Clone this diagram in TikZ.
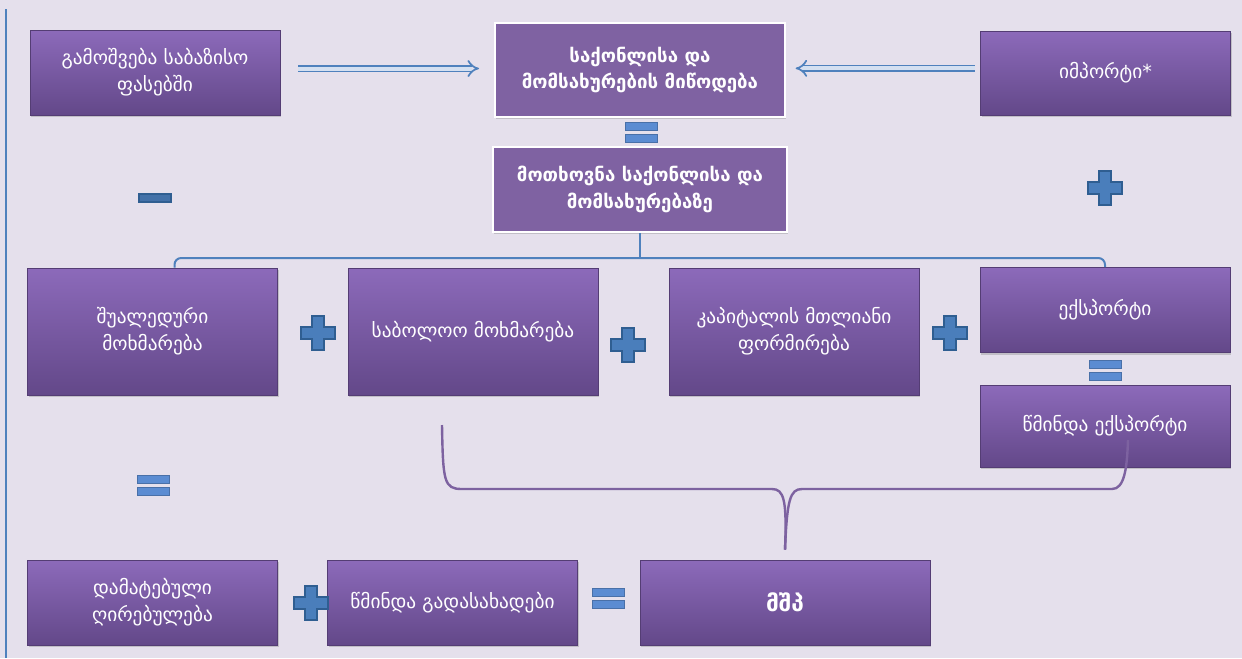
\documentclass[tikz,border=0pt]{standalone}
\usepackage{fontspec}
\setmainfont{DejaVu Sans}
\usetikzlibrary{arrows.meta, shadows}

\definecolor{bgcol}{HTML}{E5E0EC}
\definecolor{boxtop}{HTML}{8C6ABA}
\definecolor{boxbot}{HTML}{634889}
\definecolor{flatcol}{HTML}{7F62A2}
\definecolor{symblue}{HTML}{4A7EBB}
\definecolor{symedge}{HTML}{2F5E91}
\definecolor{eqblue}{HTML}{5B8CD2}
\definecolor{linkblue}{HTML}{4F81BD}
\definecolor{arrowfill}{HTML}{D4E0F1}
\definecolor{bracecol}{HTML}{7D62A0}

\tikzset{
  boxbase/.style={text=white, align=center, font=\fontsize{14.5}{20}\selectfont,
    minimum width=187.5pt, minimum height=63.75pt, inner sep=2pt,
    drop shadow={opacity=0.35, shadow xshift=1pt, shadow yshift=-1.5pt}},
  box/.style={boxbase, top color=boxtop, bottom color=boxbot, draw=boxbot!85!black, line width=0.4pt},
  flatbox/.style={boxbase, fill=flatcol, draw=white, line width=2pt, font=\bfseries\fontsize{14}{20}\selectfont},
  hollowarrow/.style={draw=linkblue, double=arrowfill, double distance=3pt, line width=1.3pt, -{Implies}},
  bluebrace/.style={draw=linkblue, line width=1.5pt, rounded corners=5pt},
  purplebrace/.style={draw=bracecol, line width=1.8pt},
  plussym/.pic={\filldraw[fill=symblue, draw=symedge, line width=1pt]
    (-6,-17)--(6,-17)--(6,-6)--(17,-6)--(17,6)--(6,6)--(6,17)--(-6,17)--(-6,6)--(-17,6)--(-17,-6)--(-6,-6)--cycle;},
  eqsym/.pic={\filldraw[fill=eqblue, draw=eqblue!80!black, line width=0.5pt] (-16,-10) rectangle (16,-2);
    \filldraw[fill=eqblue, draw=eqblue!80!black, line width=0.5pt] (-16,2) rectangle (16,10);},
  minsym/.pic={\filldraw[fill=symblue!90!black, draw=symedge, line width=1pt] (-16,-4) rectangle (16,4);}
}

\begin{document}
\begin{tikzpicture}[x=0.75pt, y=-0.75pt]
\useasboundingbox (0,0) rectangle (1242,658);
\fill[bgcol] (0,0) rectangle (1242,658);
\draw[linkblue, line width=2pt] (6,9) -- (6,658);

% top row
\node[box] (output) at (155,72.5) {გამოშვება საბაზისო\\ფასებში};
\node[flatbox, minimum width=217.5pt, minimum height=70.5pt] (supply) at (640,70) {საქონლისა და\\მომსახურების მიწოდება};
\node[box, minimum height=63pt] (import) at (1105.5,73) {იმპორტი*};
\node[flatbox, minimum width=220.5pt] (demand) at (640,189.5) {მოთხოვნა საქონლისა და\\მომსახურებაზე};

\draw[hollowarrow, shorten <=13.5pt, shorten >=11pt] ([yshift=3pt]output.east) -- ([yshift=3pt]output.east -| supply.west);
\draw[hollowarrow, shorten <=4pt, shorten >=7pt] ([yshift=3.5pt]import.west) -- ([yshift=3.5pt]import.west -| supply.east);

% components of demand
\node[box, minimum height=95.25pt] (interm) at (152.5,331.5) {შუალედური\\მოხმარება};
\node[box, minimum height=95.25pt] (final) at (473,331.5) {საბოლოო მოხმარება};
\node[box, minimum height=95.25pt] (capital) at (794,331.5) {კაპიტალის მთლიანი\\ფორმირება};
\node[box] (export) at (1105,310) {ექსპორტი};
\node[box, minimum height=61.5pt] (netexp) at (1105,426) {წმინდა ექსპორტი};

% bottom row
\node[box] (added) at (152.5,602.5) {დამატებული\\ღირებულება};
\node[box] (taxes) at (452.5,602.5) {წმინდა გადასახადები};
\node[box, minimum width=217.5pt, font=\bfseries\fontsize{17}{20}\selectfont] (gdp) at (785,602.5) {მშპ};

% braces
\draw[bluebrace] ([xshift=16.5pt]interm.north) |- (demand.south |- 0,258) -| ([xshift=0pt]export.north);
\draw[bluebrace] (demand.south) -- (640,258);

\coordinate (bl) at (442,425);
\coordinate (br) at (1128,440);
\coordinate (tip) at ([yshift=7.5pt]gdp.north);
\draw[purplebrace] (bl) .. controls (443,482) and (444,489) .. (462,489) -- (772,489)
  .. controls (784,489) and (787,500) .. (tip);
\draw[purplebrace] (tip) .. controls (787,500) and (790,489) .. (802,489) -- (1112,489)
  .. controls (1124,489) and (1127,470) .. (br);

% signs
\pic at (641,132) {eqsym};
\pic at (155,198) {minsym};
\pic at (1105,188) {plussym};
\pic at (318,333) {plussym};
\pic at (628,345) {plussym};
\pic at (950,333) {plussym};
\pic at (1105,370) {eqsym};
\pic at (153,485) {eqsym};
\pic at (311,603) {plussym};
\pic at (608,598) {eqsym};
\end{tikzpicture}
\end{document}
